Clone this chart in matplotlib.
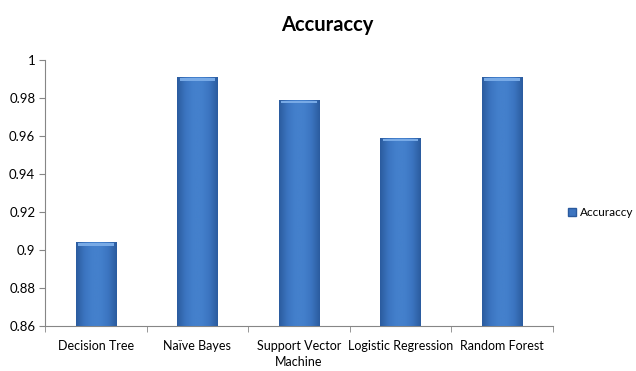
import matplotlib
matplotlib.use("Agg")
import matplotlib.pyplot as plt
import matplotlib.patches as mpatches
from matplotlib.colors import LinearSegmentedColormap
import numpy as np

plt.rcParams['font.family'] = ['Lato', 'DejaVu Sans']

# chart data
models = ['Decision Tree', 'Naïve Bayes', 'Support Vector\nMachine',
          'Logistic Regression', 'Random Forest']
accuracy = [0.904, 0.991, 0.979, 0.959, 0.991]
y_ticks = [0.86, 0.88, 0.90, 0.92, 0.94, 0.96, 0.98, 1.00]
y_labels = ['0.86', '0.88', '0.9', '0.92', '0.94', '0.96', '0.98', '1']

bar_cmap = LinearSegmentedColormap.from_list(
    'bevel', ['#2b5c9f', '#3b74c0', '#4480cc', '#4480cc', '#3b74c0', '#2b5c9f'])

fig = plt.figure(figsize=(6.36, 3.71), dpi=100)
ax = fig.add_axes([0.0708, 0.1213, 0.7987, 0.717])

x = np.arange(len(models))
base = 0.86
bars = ax.bar(x, np.array(accuracy) - base, width=0.40, bottom=base,
              color='#3d75c0', zorder=2, linewidth=0)

grad = np.linspace(0, 1, 64).reshape(1, -1)
for b in bars:
    x0, y0 = b.get_x(), b.get_y()
    w, h = b.get_width(), b.get_height()
    im = ax.imshow(grad, cmap=bar_cmap, aspect='auto', zorder=3,
                   extent=[x0, x0 + w, y0, y0 + h], interpolation='bicubic')
    im.set_clip_path(b)
    # lighter bevel at the top of each bar
    ax.add_patch(mpatches.Rectangle((x0 + w * 0.06, y0 + h - 0.0018),
                                    w * 0.88, 0.0014, color='#78aae6',
                                    zorder=4, linewidth=0))

ax.set_xlim(-0.5, len(models) - 0.5)
ax.set_ylim(0.86, 1.0)
ax.set_yticks(y_ticks)
ax.set_yticklabels(y_labels)
ax.set_xticks(x)
ax.set_xticklabels(models, linespacing=1.45)
ax.set_xticks(np.arange(len(models) + 1) - 0.5, minor=True)
ax.tick_params(axis='x', which='major', length=0, pad=10, labelsize=9)
ax.tick_params(axis='x', which='minor', length=4, color='#868686')
ax.tick_params(axis='y', length=4, color='#868686', labelsize=9.5, pad=3)

for s in ['top', 'right']:
    ax.spines[s].set_visible(False)
for s in ['left', 'bottom']:
    ax.spines[s].set_color('#868686')
    ax.spines[s].set_linewidth(0.8)

ax.set_title('Accuraccy', fontsize=14.5, fontweight='bold', pad=21, x=0.555)

handle = mpatches.Patch(facecolor='#3d75c0', edgecolor='#2a5a9e', label='Accuraccy')
fig.legend(handles=[handle], loc='center left', bbox_to_anchor=(0.893, 0.426),
           frameon=False, fontsize=8.5, handlelength=0.7, handleheight=0.7,
           handletextpad=0.3, borderaxespad=0, borderpad=0)

fig.savefig('out.png', dpi=100)
